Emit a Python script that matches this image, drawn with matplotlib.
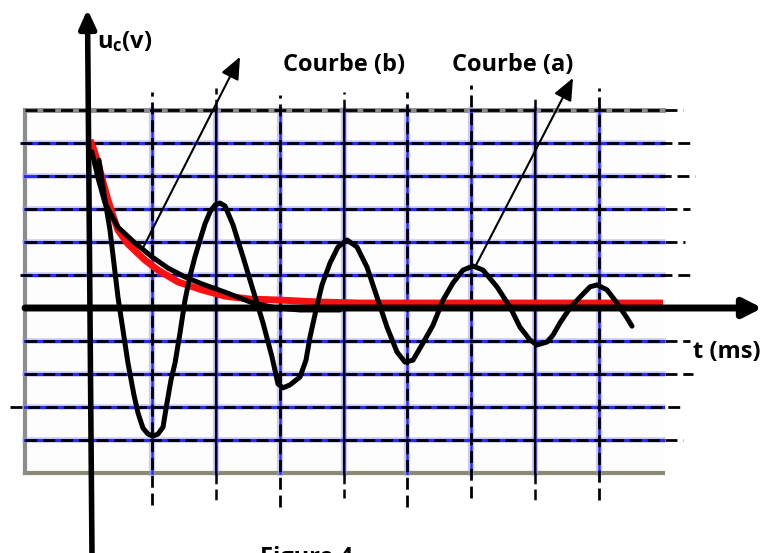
import matplotlib.pyplot as plt

plt.rcParams['font.family'] = ['Open Sans', 'DejaVu Sans']
plt.rcParams['mathtext.fontset'] = 'custom'
plt.rcParams['mathtext.rm'] = 'Open Sans:bold'
plt.rcParams['mathtext.it'] = 'Open Sans:bold'
plt.rcParams['mathtext.bf'] = 'Open Sans:bold'

# units: one division of the scope screen (x: columns, y: rows)
screen_x = (-1, 9)
screen_y = (-5, 6)
v_lines = [1, 2, 3, 4, 5, 6, 7, 8]
v_solid = [False, True, False, True, False, False, True, False]
v_top = [6.55, 6.67, 6.45, 6.55, 6.55, 6.76, 6.45, 6.67]
v_bot = [-5.97, -5.82, -6.03, -5.76, -6.03, -5.76, -5.97, -5.82]
h_lines = [6, 5, 4, 3, 2, 1, -1, -2, -3, -4]
h_start = [-1.0, -1.07, -0.81, -1.0, -1.0, -1.07, -1.0, -1.0, -1.23, -1.0]
h_end = [9.32, 9.47, 9.51, 9.43, 9.35, 9.43, 9.43, 9.47, 9.35, 9.32]

# courbe (a) : oscillations amorties
a_t = [0.165, 0.259, 0.337, 0.462, 0.619, 0.713, 0.776, 0.854, 0.933, 1.011,
       1.089, 1.168, 1.230, 1.293, 1.356, 1.434, 1.513, 1.591, 1.669, 1.748,
       1.826, 1.904, 1.983, 2.061, 2.140, 2.265, 2.422, 2.578, 2.735, 2.876,
       2.970, 3.049, 3.158, 3.315, 3.409, 3.472, 3.566, 3.660, 3.785, 3.911,
       4.052, 4.208, 4.365, 4.522, 4.679, 4.835, 4.961, 5.086, 5.243, 5.400,
       5.557, 5.713, 5.870, 6.027, 6.183, 6.403, 6.607, 6.763, 6.920, 7.030,
       7.187, 7.281, 7.390, 7.547, 7.704, 7.860, 7.970, 8.127, 8.284, 8.440,
       8.519]
a_u = [4.48, 3.27, 2.36, 0.33, -1.67, -2.64, -3.18, -3.64, -3.82, -3.88,
       -3.82, -3.61, -2.88, -2.18, -1.67, -0.76, 0.24, 0.97, 1.55, 2.06,
       2.55, 2.91, 3.12, 3.18, 3.09, 2.52, 1.55, 0.55, -0.45, -1.48,
       -2.30, -2.42, -2.33, -2.09, -1.58, -0.88, -0.06, 0.70, 1.36, 1.85,
       2.06, 1.85, 1.24, 0.33, -0.58, -1.33, -1.64, -1.58, -1.06, -0.52,
       0.24, 0.76, 1.15, 1.27, 1.15, 0.64, 0.03, -0.58, -0.97, -1.12,
       -1.03, -0.82, -0.45, 0.00, 0.33, 0.64, 0.70, 0.55, 0.15, -0.30,
       -0.55]

# courbe (b) : regime aperiodique
b_t = [0.055, 0.149, 0.259, 0.462, 0.729, 0.995, 1.246, 1.513, 1.779, 2.140,
       2.578, 2.954, 3.315, 3.942]
b_u = [4.73, 3.94, 3.18, 2.45, 1.97, 1.55, 1.21, 0.94, 0.73, 0.48,
       0.15, 0.00, -0.06, -0.06]

# trace rouge de l'oscilloscope
r_t = [0.024, 0.086, 0.149, 0.227, 0.306, 0.384, 0.462, 0.619, 0.886, 1.089,
       1.403, 1.779, 2.140, 2.532, 3.002, 3.629, 4.255, 9.006]
r_u = [5.09, 4.79, 4.39, 3.82, 3.27, 2.79, 2.36, 1.94, 1.45, 1.15,
       0.79, 0.55, 0.36, 0.27, 0.24, 0.18, 0.15, 0.15]

fig = plt.figure(figsize=(7.63, 5.53), dpi=100)
ax = fig.add_axes([0, 0, 1, 1])
ax.set_xlim(-1.387, 10.572)
ax.set_ylim(-7.424, 9.333)
ax.axis('off')

# screen
ax.fill_between(screen_x, screen_y[0], screen_y[1], color='#fdfdfd', zorder=0)
ax.plot([screen_x[0], screen_x[1]], [screen_y[1]] * 2, color='#8c8c8c', lw=3.5, zorder=1)
ax.plot([screen_x[0], screen_x[1]], [screen_y[0]] * 2, color='#8a8a72', lw=3, zorder=1)
ax.plot([screen_x[0]] * 2, screen_y, color='#8c8c8c', lw=3, zorder=1)

dash = (0, (4.3, 2.1))
for y in range(screen_y[0] + 1, screen_y[1]):
    ax.plot(screen_x, [y, y], color='#9a9aff', lw=4, alpha=0.5, zorder=1)
    ax.plot(screen_x, [y, y], color='#2a2aff', lw=2.2, zorder=2)
for x, solid, top, bot in zip(v_lines, v_solid, v_top, v_bot):
    ax.plot([x, x], screen_y, color='#9a9aff', lw=4.5, alpha=0.5, zorder=1)
    ax.plot([x, x], screen_y, color='#2a2aff', lw=1.8, zorder=2)
    if solid:
        ax.plot([x, x], screen_y, color='k', lw=1.6, zorder=3)
        ax.plot([x, x], [screen_y[1], top], color='k', lw=1.8, ls=dash, zorder=3)
        ax.plot([x, x], [screen_y[0], bot], color='k', lw=1.8, ls=dash, zorder=3)
    else:
        ax.plot([x, x], [bot, top], color='k', lw=2, ls=dash, zorder=3)
for y, x0, x1 in zip(h_lines, h_start, h_end):
    ax.plot([x0, x1], [y, y], color='k', lw=2, ls=dash, zorder=3)

# curves
ax.plot(r_t, r_u, color='#ff1010', lw=5, solid_capstyle='butt', zorder=4)
ax.plot(b_t, b_u, color='k', lw=3.6, solid_capstyle='round', zorder=5)
ax.plot(a_t, a_u, color='k', lw=3.6, solid_capstyle='round',
        solid_joinstyle='round', zorder=5)

# axes
ax.annotate('', xy=(10.56, 0), xytext=(-0.995, 0), zorder=6,
            arrowprops=dict(arrowstyle='-|>,head_length=0.55,head_width=0.28',
                            lw=5, color='k', mutation_scale=20,
                            shrinkA=0, shrinkB=0))
ax.annotate('', xy=(-0.016, 9.05), xytext=(0.055, -7.5), zorder=6,
            arrowprops=dict(arrowstyle='-|>,head_length=0.55,head_width=0.25',
                            lw=4, color='k', mutation_scale=20,
                            shrinkA=0, shrinkB=0))

# pointers
ax.annotate('', xy=(2.375, 7.61), xytext=(0.854, 1.82), zorder=7,
            arrowprops=dict(arrowstyle='-|>,head_length=0.75,head_width=0.32',
                            lw=1.5, color='k', mutation_scale=18,
                            shrinkA=0, shrinkB=0))
ax.annotate('', xy=(7.594, 6.97), xytext=(6.074, 1.30), zorder=7,
            arrowprops=dict(arrowstyle='-|>,head_length=0.75,head_width=0.32',
                            lw=1.5, color='k', mutation_scale=18,
                            shrinkA=0, shrinkB=0))

# labels
ax.text(0.133, 7.88, r'$u_c(v)$', fontsize=17, va='baseline', ha='left')
ax.text(3.049, 7.18, 'Courbe (b)', fontsize=17, fontweight='bold', va='baseline')
ax.text(5.697, 7.18, 'Courbe (a)', fontsize=17, fontweight='bold', va='baseline')
ax.text(9.475, -1.52, 't (ms)', fontsize=17, fontweight='bold', va='baseline')
ax.text(2.688, -7.21, 'Figure 4', fontsize=17, fontweight='bold', va='top')

fig.savefig('out.png', dpi=100)
